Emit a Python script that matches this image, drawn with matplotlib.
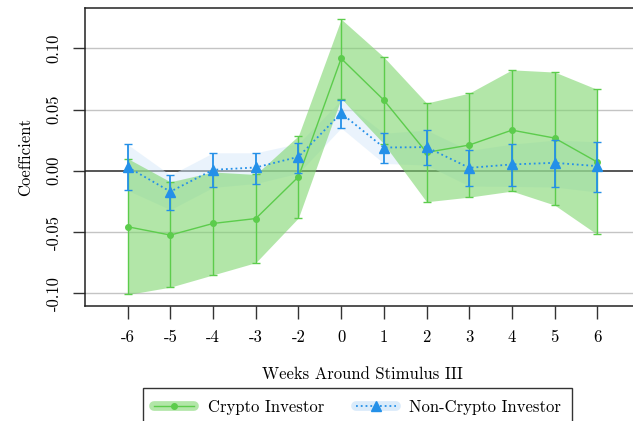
import matplotlib
matplotlib.use("Agg")
import matplotlib.pyplot as plt
from matplotlib.lines import Line2D
import numpy as np

plt.rcParams['font.family'] = ['cmr10', 'DejaVu Serif']
plt.rcParams['axes.unicode_minus'] = False

weeks = ["-6", "-5", "-4", "-3", "-2", "0", "1", "2", "3", "4", "5", "6"]

crypto_coef = [-0.0457, -0.0525, -0.043, -0.039, -0.0049, 0.0917, 0.0577, 0.015, 0.021, 0.0332, 0.0267, 0.0071]
crypto_hi = [0.010, -0.009, -0.001, -0.003, 0.0286, 0.1238, 0.0928, 0.0553, 0.0634, 0.0824, 0.0806, 0.0664]
crypto_lo = [-0.101, -0.095, -0.085, -0.075, -0.0384, 0.059, 0.022, -0.0253, -0.0215, -0.0166, -0.028, -0.052]

noncrypto_coef = [0.003, -0.017, 0.0008, 0.0027, 0.0114, 0.047, 0.019, 0.0193, 0.0024, 0.0052, 0.0065, 0.0038]
noncrypto_hi = [0.0215, -0.0035, 0.0147, 0.0147, 0.0223, 0.0577, 0.0307, 0.0332, 0.0166, 0.0218, 0.025, 0.0237]
noncrypto_lo = [-0.016, -0.0318, -0.0136, -0.0104, -0.002, 0.0349, 0.006, 0.0046, -0.0125, -0.0128, -0.0133, -0.0174]

yticks = [-0.10, -0.05, 0.00, 0.05, 0.10]
ytick_labels = ["-0.10", "-0.05", "0.00", "0.05", "0.10"]

green = "#5ccc4c"
green_fill = "#7fd66f"
blue = "#2490e8"
blue_fill = "#d6e9fa"

fig = plt.figure(figsize=(6.33, 4.21), dpi=100)
ax = fig.add_axes([85 / 633, 1 - 306 / 421, 555 / 633, 298 / 421])

x = np.arange(len(weeks))

for yt in yticks:
    if yt != 0:
        ax.axhline(yt, color="#c4c4c4", lw=1.0, zorder=0)
ax.axhline(0, color="#555555", lw=1.4, zorder=1)

ax.fill_between(x, noncrypto_lo, noncrypto_hi, color=blue_fill, alpha=0.5, lw=0, zorder=2)
ax.fill_between(x, crypto_lo, crypto_hi, color=green_fill, alpha=0.6, lw=0, zorder=3)

c = np.array(crypto_coef)
ax.errorbar(x, c, yerr=[c - np.array(crypto_lo), np.array(crypto_hi) - c],
            fmt="o-", color=green, ms=4, lw=1.0, elinewidth=1.0, capsize=3, capthick=1.0, zorder=4)
n = np.array(noncrypto_coef)
ax.errorbar(x, n, yerr=[n - np.array(noncrypto_lo), np.array(noncrypto_hi) - n],
            fmt="^:", color=blue, ms=7.5, lw=1.3, elinewidth=1.3, capsize=3, capthick=1.0, zorder=5)

ax.set_xlim(-1, 12)
ax.set_ylim(-0.1104, 0.1329)
ax.set_xticks(x)
ax.set_xticklabels(weeks, fontsize=12)
ax.set_yticks(yticks)
ax.set_yticklabels(ytick_labels, fontsize=12, rotation=90, va="center")
ax.tick_params(axis="both", direction="out", length=9, width=1, color="#333333", pad=8)
for s in ax.spines.values():
    s.set_color("#222222")
    s.set_linewidth(1.1)

ax.set_ylabel("Coefficient", fontsize=12, labelpad=9)
ax.set_xlabel("Weeks Around Stimulus III", fontsize=12, labelpad=16)

h1 = (Line2D([], [], color=green_fill, alpha=0.6, lw=7, solid_capstyle="round"),
      Line2D([], [], color=green, marker="o", ms=4, lw=1.0))
h2 = (Line2D([], [], color=blue_fill, alpha=0.9, lw=7, solid_capstyle="round"),
      Line2D([], [], color=blue, marker="^", ms=7, lw=1.3, ls=":"))
leg = fig.legend([h1, h2], ["Crypto Investor", "Non-Crypto Investor"], ncol=2,
                 loc="upper center", bbox_to_anchor=(357.5 / 633, 1 - 388 / 421),
                 borderaxespad=0, fontsize=12, frameon=True, fancybox=False,
                 edgecolor="black", handlelength=2.4, columnspacing=1.9, borderpad=0.7)
leg.get_frame().set_linewidth(1.0)

fig.savefig("out.png", dpi=100)
